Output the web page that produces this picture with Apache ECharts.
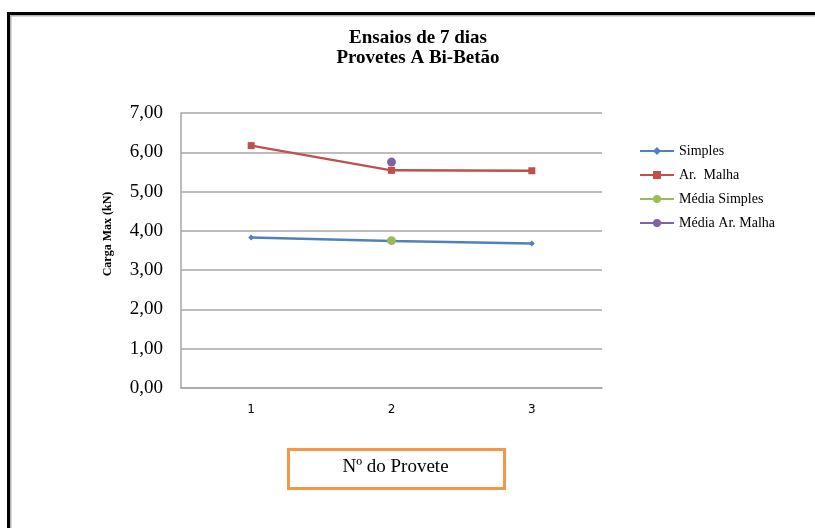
<!DOCTYPE html>
<html>
<head>
<meta charset="utf-8">
<script src="https://cdn.jsdelivr.net/npm/echarts@6/dist/echarts.min.js"></script>
<style>html,body{margin:0;padding:0;background:#fff}#c{width:815px;height:528px}</style>
</head>
<body>
<div id="c"></div>
<script>
var categories = ['1', '2', '3'];
var simples = [3.83, 3.74, 3.68];
var arMalha = [6.17, 5.54, 5.53];
var mediaSimples = [null, 3.75, null];
var mediaArMalha = [null, 5.75, null];
var yTicks = { min: 0, max: 7, interval: 1 };
var titleLines = ['Ensaios de 7 dias', 'Provetes A Bi-Betão'];
var yName = 'Carga Max (kN)';
var xName = 'Nº do Provete';

var serif = '"Liberation Serif", "DejaVu Serif", serif';
var chart = echarts.init(document.getElementById('c'), null, { renderer: 'canvas' });
chart.setOption({
  animation: false,
  backgroundColor: '#fff',
  title: {
    text: titleLines.join('\n'),
    left: 418, top: 28, textAlign: 'center', padding: 0,
    textStyle: { fontFamily: serif, fontWeight: 'bold', fontSize: 19, lineHeight: 20, color: '#000' }
  },
  legend: {
    orient: 'vertical', left: 639, top: 144, padding: 0,
    itemWidth: 34, itemHeight: 10, itemGap: 10,
    textStyle: { fontFamily: serif, fontSize: 14, lineHeight: 14, color: '#000' },
    data: ['Simples', 'Ar.  Malha', 'Média Simples', 'Média Ar. Malha']
  },
  grid: { left: 181, right: 213, top: 113, bottom: 140, containLabel: false },
  xAxis: {
    type: 'category', data: categories, boundaryGap: true,
    axisLine: { lineStyle: { color: '#a6a6a6', width: 1.5 } },
    axisTick: { show: false },
    axisLabel: { fontFamily: '"DejaVu Sans", sans-serif', fontSize: 12, color: '#000', margin: 16 },
    name: xName, nameLocation: 'middle', nameGap: 79,
    nameTextStyle: { fontFamily: serif, fontSize: 19, color: '#000', verticalAlign: 'middle', padding: [0, 0, 0, 8] }
  },
  yAxis: {
    type: 'value', min: yTicks.min, max: yTicks.max, interval: yTicks.interval,
    axisLine: { show: true, lineStyle: { color: '#a6a6a6', width: 1.5 } },
    axisTick: { show: false },
    splitLine: { lineStyle: { color: '#a6a6a6', width: 1.5 } },
    axisLabel: {
      fontFamily: serif, fontSize: 19, color: '#000', margin: 18,
      formatter: function (v) { return v.toFixed(2).replace('.', ','); }
    },
    name: yName, nameLocation: 'middle', nameGap: 67,
    nameTextStyle: { fontFamily: serif, fontWeight: 'bold', fontSize: 12, color: '#000', padding: [0, 0, 0, 33] }
  },
  series: [
    { name: 'Simples', type: 'line', data: simples, symbol: 'diamond', symbolSize: 6,
      itemStyle: { color: '#4f81bd' }, lineStyle: { color: '#4f81bd', width: 2.5 } },
    { name: 'Ar.  Malha', type: 'line', data: arMalha, symbol: 'rect', symbolSize: 7,
      itemStyle: { color: '#c0504d' }, lineStyle: { color: '#c0504d', width: 2.5 } },
    { name: 'Média Simples', type: 'line', data: mediaSimples, symbol: 'circle', symbolSize: 9,
      itemStyle: { color: '#9bbb59' }, lineStyle: { color: '#9bbb59', width: 3 } },
    { name: 'Média Ar. Malha', type: 'line', data: mediaArMalha, symbol: 'circle', symbolSize: 9,
      itemStyle: { color: '#8064a2' }, lineStyle: { color: '#8064a2', width: 3 } }
  ],
  graphic: [
    { type: 'rect', shape: { x: 7, y: 12, width: 810, height: 3 }, style: { fill: '#000' }, silent: true },
    { type: 'rect', shape: { x: 7, y: 12, width: 3, height: 520 }, style: { fill: '#000' }, silent: true },
    { type: 'rect', shape: { x: 10, y: 15, width: 810, height: 1.5 }, style: { fill: '#b4b4b4' }, silent: true },
    { type: 'rect', shape: { x: 10, y: 15, width: 1.5, height: 520 }, style: { fill: '#b4b4b4' }, silent: true },
    { type: 'rect', shape: { x: 288.5, y: 449.5, width: 216, height: 39 },
      style: { fill: 'none', stroke: '#f79646', lineWidth: 3 }, silent: true, z: -1 }
  ]
});
</script>
</body>
</html>
